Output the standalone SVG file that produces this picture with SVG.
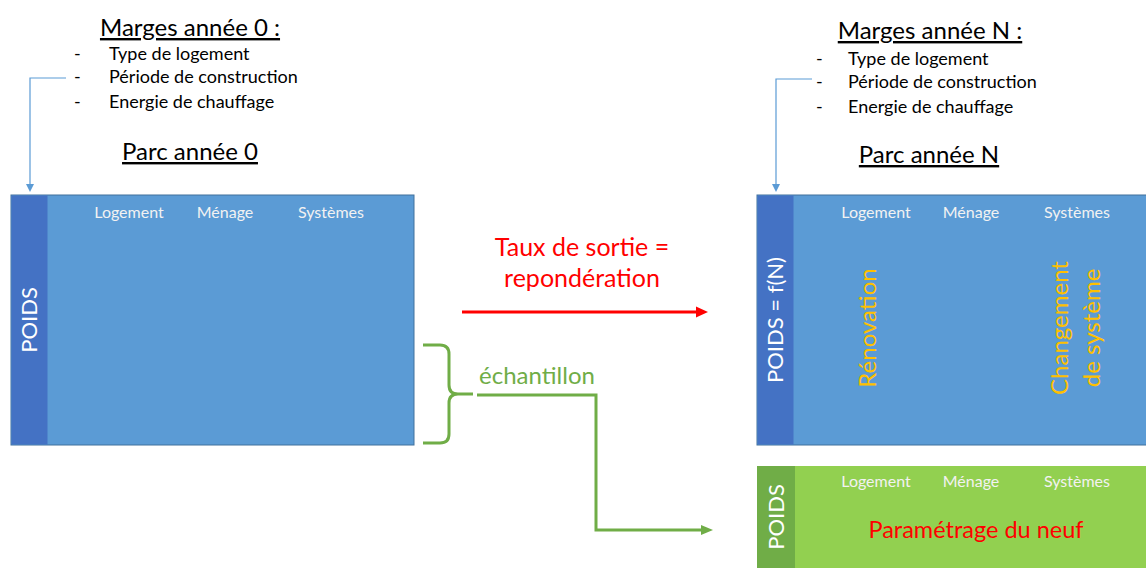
<svg xmlns="http://www.w3.org/2000/svg" width="1146" height="568" viewBox="0 0 1146 568">
<defs>
<style>
text{font-family:Lato,"Open Sans","Liberation Sans",sans-serif}
.title{font-size:24px;fill:#000;text-decoration:underline}
.item{font-size:18px;fill:#000}
.hdr{font-size:16px;fill:#F2F2F2}
.poids{font-size:22px;fill:#fff}
.orange{font-size:24px;fill:#FFC000}
.main{fill:#5B9BD5;stroke:#41719C;stroke-width:1}
.strip{fill:#4472C4}
.gmain{fill:#92D050}
.gstrip{fill:#70AD47}
</style>
<marker id="ab" markerWidth="8" markerHeight="8" refX="4" refY="4" orient="auto" markerUnits="userSpaceOnUse"><path d="M0,0 L8,4 L0,8 z" fill="#5B9BD5"/></marker>
<marker id="ar" markerWidth="12" markerHeight="12" refX="6" refY="6" orient="auto" markerUnits="userSpaceOnUse"><path d="M0,0.5 L12,6 L0,11.5 z" fill="#FF0000"/></marker>
<marker id="ag" markerWidth="12" markerHeight="12" refX="6" refY="6" orient="auto" markerUnits="userSpaceOnUse"><path d="M0,1 L12,6 L0,11 z" fill="#70AD47"/></marker>
</defs>

<g id="marges0">
<text class="title" x="190" y="36" text-anchor="middle">Marges année 0 :</text>
<text class="item" x="74" y="60">-</text><text class="item" x="109" y="60">Type de logement</text>
<text class="item" x="74" y="83">-</text><text class="item" x="109" y="83">Période de construction</text>
<text class="item" x="74" y="108">-</text><text class="item" x="109" y="108">Energie de chauffage</text>
<text class="title" x="190" y="160" text-anchor="middle">Parc année 0</text>
</g>

<g id="margesN">
<text class="title" x="930" y="39" text-anchor="middle">Marges année N :</text>
<text class="item" x="816" y="65">-</text><text class="item" x="848" y="65">Type de logement</text>
<text class="item" x="816" y="88">-</text><text class="item" x="848" y="88">Période de construction</text>
<text class="item" x="816" y="113">-</text><text class="item" x="848" y="113">Energie de chauffage</text>
<text class="title" x="929" y="163" text-anchor="middle">Parc année N</text>
</g>

<g id="parc0">
<rect class="main" x="11" y="195" width="403" height="250"/>
<rect class="strip" x="11.5" y="195.5" width="36" height="249"/>
<text class="hdr" x="129" y="218" text-anchor="middle">Logement</text>
<text class="hdr" x="225" y="218" text-anchor="middle">Ménage</text>
<text class="hdr" x="331" y="218" text-anchor="middle">Systèmes</text>
<text class="poids" transform="translate(37,320) rotate(-90)" text-anchor="middle">POIDS</text>
</g>

<g id="parcN">
<rect class="main" x="757" y="195" width="395" height="250"/>
<rect class="strip" x="757.5" y="195.5" width="36" height="249"/>
<text class="hdr" x="876" y="218" text-anchor="middle">Logement</text>
<text class="hdr" x="971" y="218" text-anchor="middle">Ménage</text>
<text class="hdr" x="1077" y="218" text-anchor="middle">Systèmes</text>
<text class="poids" transform="translate(783,320) rotate(-90)" text-anchor="middle">POIDS = f(N)</text>
<text class="orange" transform="translate(876,328) rotate(-90)" text-anchor="middle">Rénovation</text>
<text class="orange" transform="translate(1068,328) rotate(-90)" text-anchor="middle">Changement</text>
<text class="orange" transform="translate(1100,328) rotate(-90)" text-anchor="middle">de système</text>
</g>

<g id="neuf">
<rect class="gmain" x="757" y="466" width="395" height="110"/>
<rect class="gstrip" x="757" y="466" width="38" height="110"/>
<text class="hdr" x="876" y="487" text-anchor="middle">Logement</text>
<text class="hdr" x="971" y="487" text-anchor="middle">Ménage</text>
<text class="hdr" x="1077" y="487" text-anchor="middle">Systèmes</text>
<text class="poids" transform="translate(784,517) rotate(-90)" text-anchor="middle">POIDS</text>
<text x="976" y="538" text-anchor="middle" style="font-size:23.5px;fill:#FF0000">Paramétrage du neuf</text>
</g>

<g id="connectors">
<path d="M66,78 H30 V188" fill="none" stroke="#5B9BD5" stroke-width="1.2" marker-end="url(#ab)"/>
<path d="M812,79 H776 V188" fill="none" stroke="#5B9BD5" stroke-width="1.2" marker-end="url(#ab)"/>
<path d="M462,312 H702" fill="none" stroke="#FF0000" stroke-width="3" marker-end="url(#ar)"/>
<path d="M423,345 H440 Q449,345 449,354 V385 Q449,394 458,394 H473 M458,394 Q449,394 449,403 V434 Q449,443 440,443 H423" fill="none" stroke="#70AD47" stroke-width="3"/>
<path d="M477,395 H596 V530 H707" fill="none" stroke="#70AD47" stroke-width="3" marker-end="url(#ag)"/>
</g>

<g id="labels">
<text x="582" y="256" text-anchor="middle" style="font-size:25px;fill:#FF0000">Taux de sortie =</text>
<text x="582" y="287" text-anchor="middle" style="font-size:25px;fill:#FF0000">repondération</text>
<text x="537" y="384" text-anchor="middle" style="font-size:24px;fill:#70AD47">échantillon</text>
</g>
</svg>
